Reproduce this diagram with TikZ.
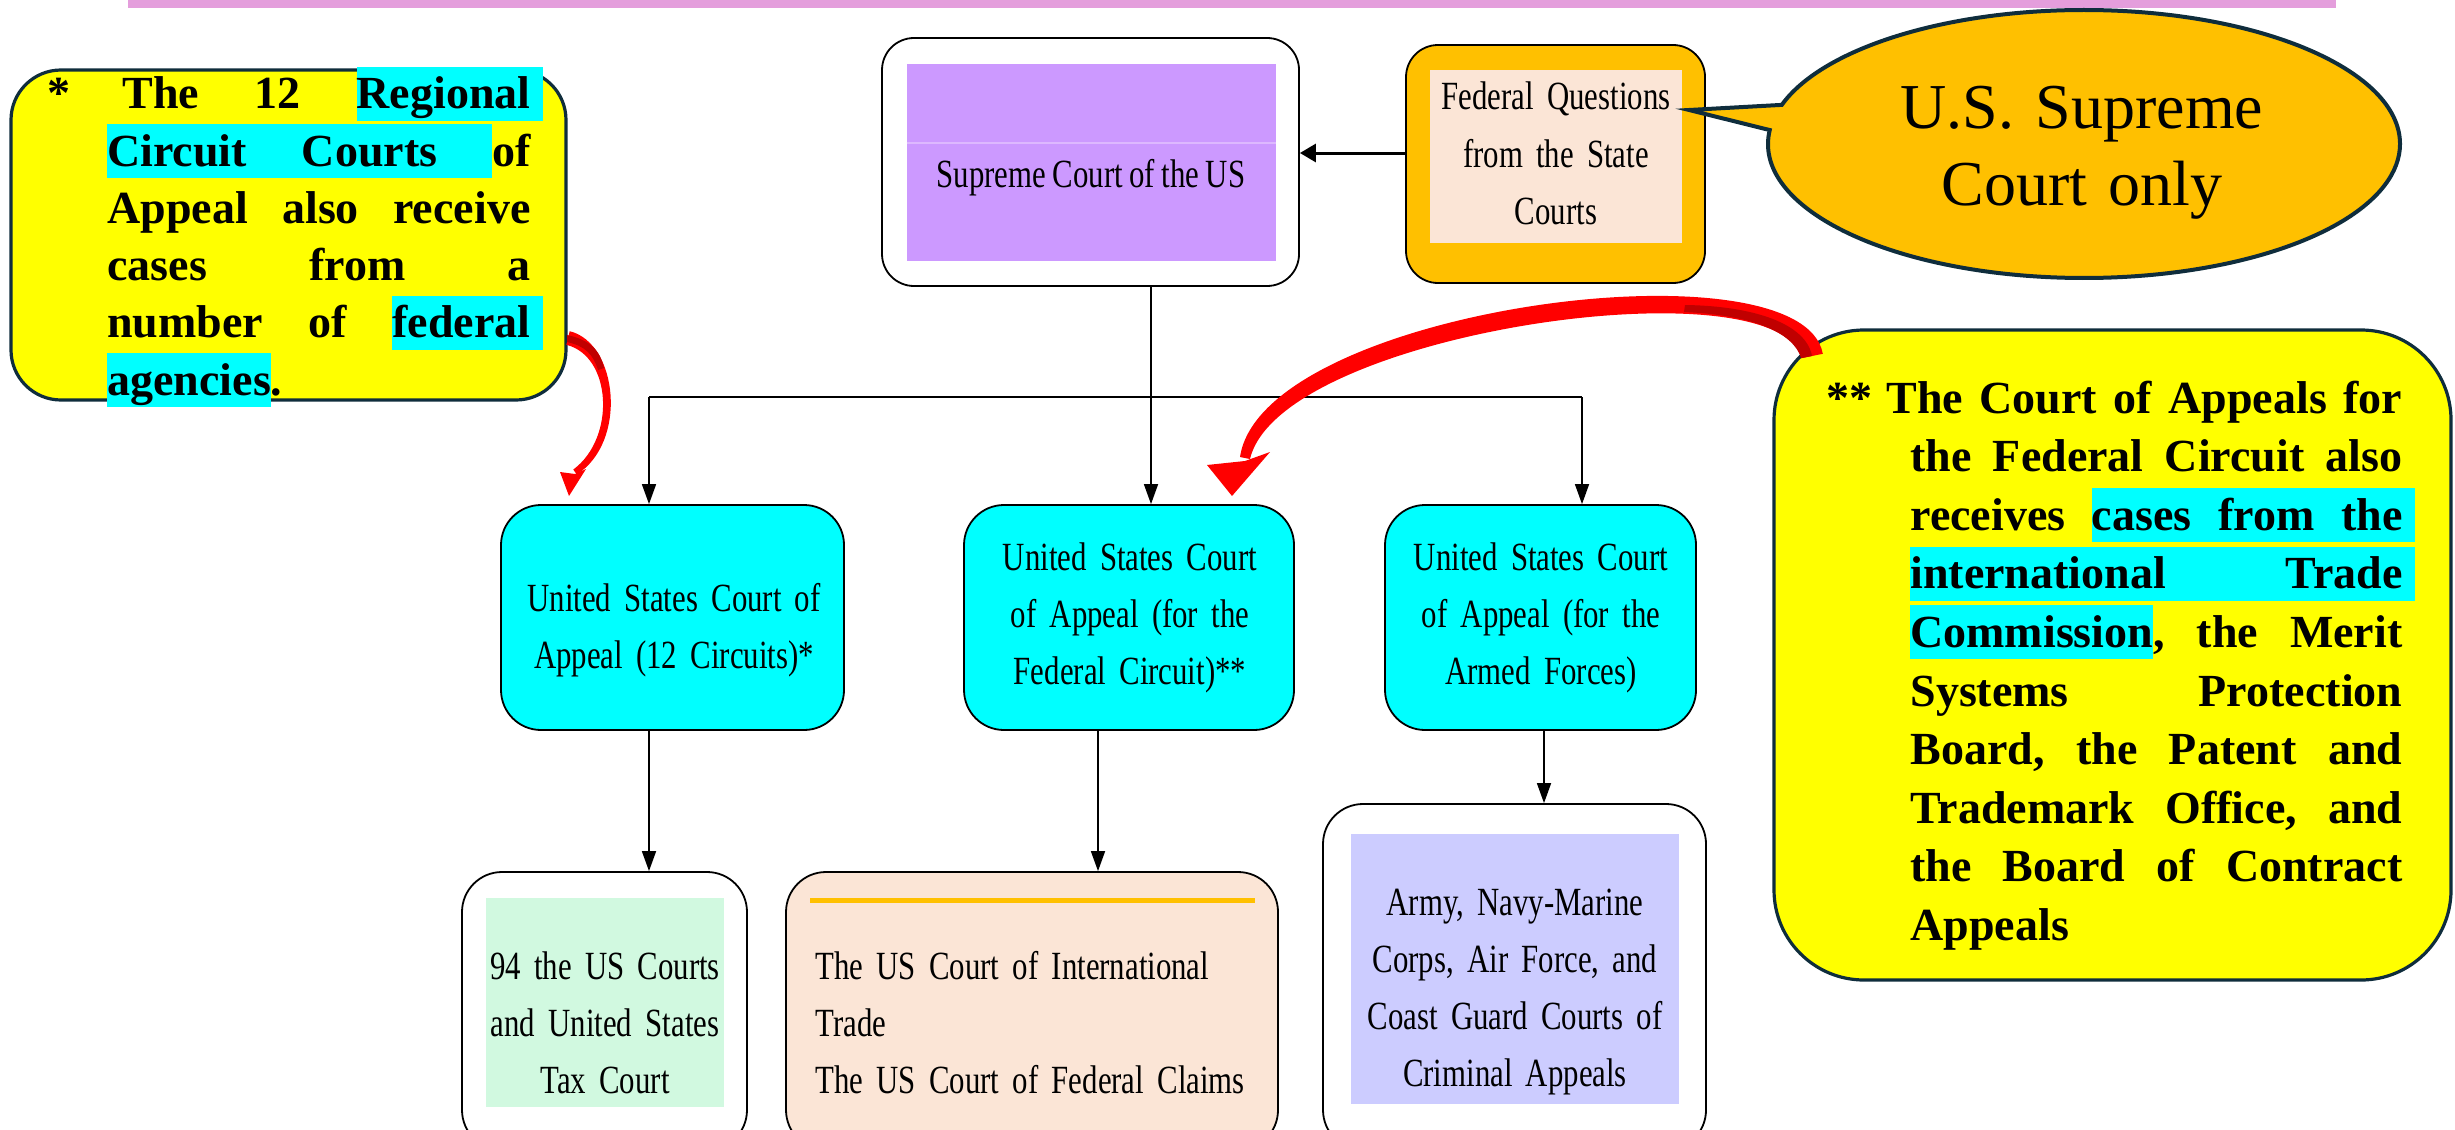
\documentclass[tikz,border=0pt]{standalone}
\usepackage{fontspec}
\setmainfont{Liberation Serif}
\newfontfamily\condfont[FakeStretch=0.77,WordSpace=0.85]{Liberation Serif}
\usetikzlibrary{shapes.callouts,arrows.meta,fit}
\definecolor{pinkbar}{HTML}{E49EDC}
\definecolor{notey}{HTML}{FFFF00}
\definecolor{noteborder}{HTML}{0F2D3C}
\definecolor{hlc}{HTML}{00FFFF}
\definecolor{cyanbox}{HTML}{00FFFF}
\definecolor{purplebox}{HTML}{CC99FF}
\definecolor{purpleline}{HTML}{DDB8FF}
\definecolor{orangebox}{HTML}{FFC000}
\definecolor{peach}{HTML}{FBE5D6}
\definecolor{mint}{HTML}{D1F9E0}
\definecolor{lavender}{HTML}{CCCCFF}
\definecolor{redarrow}{HTML}{FF0000}
\definecolor{darkred}{HTML}{C00000}
\newcommand\hlw[1]{{\setlength\fboxsep{0pt}\colorbox{hlc}{\rule[-6pt]{0pt}{27pt}#1}}}
\newcommand\hlsp{{\color{hlc}\leaders\hrule height 21pt depth 6pt\hskip\fontdimen2\font plus\fontdimen3\font minus\fontdimen4\font}}
\newcommand\hlend{\rlap{\color{hlc}\rule[-6pt]{6.5pt}{27pt}}}
\newcommand\jline[1]{\hbox to \hsize{#1}}
\begin{document}
\begin{tikzpicture}[x=0.5pt,y=-0.5pt,
  conn/.style={line width=0.8pt, draw=black},
  arr/.style={conn, -{Triangle[length=10pt,width=7pt]}},
  fedarr/.style={line width=1.5pt, -{Triangle[length=8pt,width=9pt]}},
  rbox/.style={rectangle, draw=black, line width=0.9pt, rounded corners=#1, inner sep=0pt},
  flat/.style={rectangle, draw=none, inner sep=0pt},
  note/.style={rectangle, draw=noteborder, line width=1.6pt, fill=notey, rounded corners=#1, inner sep=0pt},
  txt/.style={font=\condfont\fontsize{20}{28.65}\selectfont, inner sep=0pt, align=center},
  boldtxt/.style={inner sep=0pt},
  redshape/.style={fill=redarrow, draw=none}
]
\useasboundingbox (0,0) rectangle (2455,1129);
\clip (0,0) rectangle (2455,1129);

% top bar
\node[flat, fill=pinkbar, fit={(128,0) (2336,8)}] (topbar) {};

% supreme court
\node[rbox=16pt, fill=white, fit={(882,38) (1299,286)}] (supO) {};
\node[flat, fill=purplebox, fit={(907,64) (1276,261)}] (supI) {};
\coordinate (pl) at (0,143);
\draw[purpleline, line width=0.6pt] (supI.west |- pl) -- (supI.east |- pl);
\node[txt, anchor=base] (supT) at (1091,187) {Supreme Court of the US};

% federal questions
\node[rbox=16pt, fill=orangebox, fit={(1406,45) (1705,283)}] (fedO) {};
\node[flat, fill=peach, fit={(1430,70) (1682,243)}] (fedI) {};
\node[txt, anchor=base, text width=150pt] (fedT) at (1556,110) {Federal Questions\\from the State\\Courts};

% notes
\node[note=25pt, fit={(11,70) (566,400)}] (lnote) {};
\node[note=45pt, fit={(1774,330) (2451,980)}] (rnote) {};

\node[boldtxt, anchor=base west] (lnoteT) at (107,109) {\begin{minipage}[t]{211.5pt}\bfseries\fontsize{23}{28.6}\selectfont\frenchspacing
\jline{\llap{*\kern18.5pt}\kern7.5pt The 12 \hlw{Regional}\hlend}
\jline{\hlw{Circuit}\hlsp\hlw{Courts}\hlsp of}
\jline{Appeal also receive}
\jline{cases from a}
\jline{number of \hlw{federal}\hlend}
\jline{\hlw{agencies}.\hfil}
\end{minipage}};

\node[boldtxt, anchor=base west] (rnoteT) at (1910,413) {\begin{minipage}[t]{246pt}\bfseries\fontsize{23}{29.3}\selectfont\frenchspacing
\jline{\kern-12pt\llap{**\kern7pt}The Court of Appeals for}
\jline{the Federal Circuit also}
\jline{receives \hlw{cases}\hlsp\hlw{from}\hlsp\hlw{the}\hlend}
\jline{\hlw{international}\hlsp\hlw{Trade}\hlend}
\jline{\hlw{Commission}, the Merit}
\jline{Systems Protection}
\jline{Board, the Patent and}
\jline{Trademark Office, and}
\jline{the Board of Contract}
\jline{Appeals\hfil}
\end{minipage}};

% cyan courts of appeal
\node[rbox=20pt, fill=cyanbox, fit={(501,505) (844,730)}] (cyL) {};
\node[rbox=20pt, fill=cyanbox, fit={(964,505) (1294,730)}] (cyM) {};
\node[rbox=20pt, fill=cyanbox, fit={(1385,505) (1696,730)}] (cyR) {};
\node[txt, anchor=base, text width=170pt] (cyLT) at (674,611) {United States Court of\\Appeal (12 Circuits)*};
\node[txt, anchor=base, text width=160pt] (cyMT) at (1130,570) {United States Court\\of Appeal (for the\\Federal Circuit)**};
\node[txt, anchor=base, text width=155pt] (cyRT) at (1541,570) {United States Court\\of Appeal (for the\\Armed Forces)};

% bottom courts
\node[rbox=20pt, fill=white, fit={(462,872) (747,1150)}] (botL) {};
\node[flat, fill=mint, fit={(486,898) (724,1107)}] (botLi) {};
\node[txt, anchor=base, text width=130pt] (botLT) at (605,979) {94 the US Courts\\and United States\\Tax Court};

\node[rbox=20pt, fill=peach, fit={(786,872) (1278,1150)}] (botM) {};
\coordinate (ol) at (0,900);
\draw[orangebox, line width=2.5pt] ([xshift=12.5pt]botM.west |- ol) -- ([xshift=-12pt]botM.east |- ol);
\node[txt, align=left, anchor=base west, text width=235pt] (botMT) at (815,979) {The US Court of International\\Trade\\The US Court of Federal Claims};

\node[rbox=20pt, fill=white, fit={(1323,804) (1706,1150)}] (botR) {};
\node[flat, fill=lavender, fit={(1351,834) (1679,1104)}] (botRi) {};
\node[txt, anchor=base, text width=170pt] (botRT) at (1515,915) {Army, Navy-Marine\\Corps, Air Force, and\\Coast Guard Courts of\\Criminal Appeals};

% connectors
\coordinate (jL) at (649,397);
\coordinate (jM) at (1151,397);
\coordinate (jR) at (1582,397);
\draw[conn] (jL) -- (jR);
\draw[arr] (jM |- supO.south) -- (jM |- cyM.north);
\draw[arr] (jL) -- (jL |- cyL.north);
\draw[arr] (jR) -- (jR |- cyR.north);
\coordinate (dL) at (649,0);
\coordinate (dM) at (1098,0);
\coordinate (dR) at (1544,0);
\draw[arr] (dL |- cyL.south) -- (dL |- botL.north);
\draw[arr] (dM |- cyM.south) -- (dM |- botM.north);
\draw[arr] (dR |- cyR.south) -- (dR |- botR.north);
\coordinate (fa) at (0,153);
\draw[fedarr] (fa -| fedO.west) -- (fa -| supO.east);

% red curved arrows
\fill[redshape] (569.7,331.2) .. controls (618,343) and (628,442) .. (576.7,474.5)
  -- (573.3,469.5) .. controls (616,438) and (612,356) .. (566.3,344.8) -- cycle;
\fill[darkred] (567,335) .. controls (590,340) and (600,350) .. (604,368)
  -- (598,370) .. controls (593,354) and (585,346) .. (567,342) -- cycle;
\fill[redshape] (569,496) -- (560,472) -- (575,474) -- (586,469) -- cycle;
\fill[redshape] (1822.8,353.8) .. controls (1802,238) and (1262,308) .. (1240,457)
  -- (1250,459) .. controls (1280,332) and (1778,262) .. (1801.2,358.2) -- cycle;
\fill[darkred] (1812,356) .. controls (1806,324) and (1755,306) .. (1685,305)
  -- (1684,312) .. controls (1752,315) and (1793,332) .. (1801.2,358.2) -- cycle;
\fill[redshape] (1232,496) -- (1207,465) -- (1245,461) -- (1270,452) -- cycle;

% callout
\coordinate (ctip) at (1689,110);
\node[ellipse callout, draw=noteborder, line width=2pt, fill=orangebox,
  minimum width=316pt, minimum height=134pt, inner sep=0pt,
  callout absolute pointer={(ctip)}, callout pointer arc=11] (callout) at (2084,144) {};
\node[font=\fontsize{32}{38.5}\selectfont, align=center, text width=240pt, inner sep=0pt, anchor=base] (calloutT) at (2082,128) {U.S. Supreme\\Court only};
\end{tikzpicture}
\end{document}
